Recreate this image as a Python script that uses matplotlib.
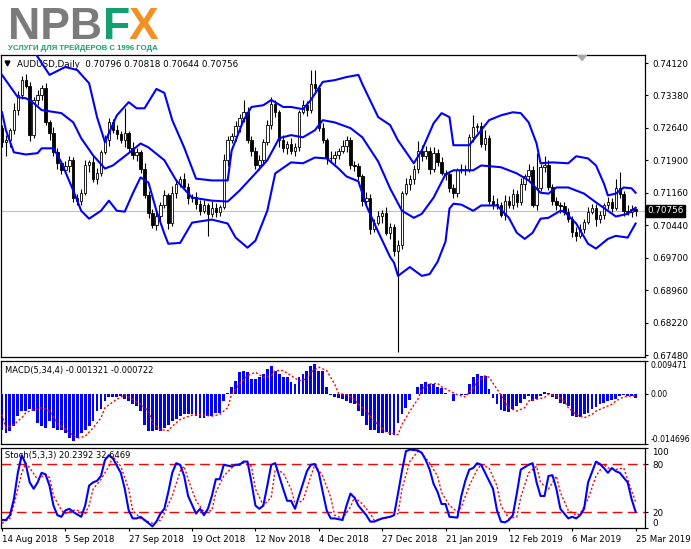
import numpy as np
import matplotlib.pyplot as plt
from matplotlib import font_manager
from matplotlib.patches import Polygon

# AUDUSD daily bars, 14 Aug 2018 (bar 0) .. 25 Mar 2019 (bar 160)
date_labels = ["14 Aug 2018", "5 Sep 2018", "27 Sep 2018", "19 Oct 2018",
               "12 Nov 2018", "4 Dec 2018", "27 Dec 2018", "21 Jan 2019",
               "12 Feb 2019", "6 Mar 2019", "25 Mar 2019"]
date_bars = [0, 16, 32, 48, 64, 80, 96, 112, 128, 144, 160]

opens = [
    0.7264, 0.7232, 0.7236, 0.7259, 0.7305, 0.7339, 0.7373, 0.7360, 0.7248, 0.7328,
    0.7339, 0.7355, 0.7277, 0.7252, 0.7209, 0.7184, 0.7168, 0.7177, 0.7191, 0.7104,
    0.7099, 0.7117, 0.7179, 0.7186, 0.7149, 0.7163, 0.7209, 0.7236, 0.7277, 0.7259,
    0.7250, 0.7236, 0.7252, 0.7218, 0.7202, 0.7209, 0.7172, 0.7111, 0.7072, 0.7044,
    0.7063, 0.7088, 0.7111, 0.7049, 0.7117, 0.7138, 0.7149, 0.7131, 0.7104, 0.7108,
    0.7092, 0.7076, 0.7088, 0.7069, 0.7083, 0.7074, 0.7085, 0.7191, 0.7236, 0.7245,
    0.7268, 0.7286, 0.7300, 0.7236, 0.7213, 0.7179, 0.7191, 0.7232, 0.7271, 0.7318,
    0.7300, 0.7236, 0.7218, 0.7227, 0.7213, 0.7220, 0.7300, 0.7316, 0.7305, 0.7364,
    0.7355, 0.7264, 0.7236, 0.7197, 0.7195, 0.7202, 0.7213, 0.7223, 0.7236, 0.7179,
    0.7177, 0.7154, 0.7099, 0.7104, 0.7035, 0.7049, 0.7063, 0.7072, 0.7026, 0.7040,
    0.6985, 0.6999, 0.7117, 0.7138, 0.7149, 0.7172, 0.7213, 0.7200, 0.7213, 0.7172,
    0.7207, 0.7186, 0.7163, 0.7159, 0.7127, 0.7117, 0.7168, 0.7170, 0.7172, 0.7243,
    0.7266, 0.7268, 0.7227, 0.7241, 0.7099, 0.7092, 0.7088, 0.7067, 0.7099, 0.7090,
    0.7115, 0.7095, 0.7138, 0.7154, 0.7168, 0.7090, 0.7127, 0.7175, 0.7179, 0.7131,
    0.7099, 0.7088, 0.7086, 0.7074, 0.7058, 0.7028, 0.7019, 0.7035, 0.7051, 0.7074,
    0.7083, 0.7058, 0.7067, 0.7088, 0.7097, 0.7083, 0.7127, 0.7115, 0.7076, 0.7074,
    0.70796]

highs = [
    0.7272, 0.7248, 0.7265, 0.7320, 0.7349, 0.7382, 0.7386, 0.7369, 0.7335, 0.7350,
    0.7363, 0.7367, 0.7283, 0.7267, 0.7219, 0.7189, 0.7190, 0.7200, 0.7198, 0.7115,
    0.7125, 0.7191, 0.7192, 0.7201, 0.7173, 0.7214, 0.7249, 0.7286, 0.7284, 0.7270,
    0.7258, 0.7309, 0.7258, 0.7233, 0.7219, 0.7214, 0.7185, 0.7120, 0.7079, 0.7074,
    0.7096, 0.7123, 0.7117, 0.7132, 0.7148, 0.7154, 0.7162, 0.7140, 0.7115, 0.7119,
    0.7100, 0.7100, 0.7094, 0.7098, 0.7093, 0.7090, 0.7204, 0.7245, 0.7252, 0.7279,
    0.7296, 0.7328, 0.7313, 0.7245, 0.7220, 0.7202, 0.7240, 0.7283, 0.7334, 0.7328,
    0.7305, 0.7249, 0.7234, 0.7242, 0.7230, 0.7305, 0.7329, 0.7325, 0.7396, 0.7396,
    0.7363, 0.7276, 0.7242, 0.7212, 0.7212, 0.7218, 0.7236, 0.7245, 0.7243, 0.7190,
    0.7185, 0.7159, 0.7119, 0.7114, 0.7057, 0.7075, 0.7078, 0.7085, 0.7049, 0.7047,
    0.7010, 0.7122, 0.7151, 0.7158, 0.7179, 0.7234, 0.7226, 0.7224, 0.7220, 0.7222,
    0.7217, 0.7198, 0.7169, 0.7165, 0.7138, 0.7173, 0.7183, 0.7181, 0.7250, 0.7293,
    0.7276, 0.7278, 0.7259, 0.7249, 0.7111, 0.7105, 0.7095, 0.7112, 0.7109, 0.7126,
    0.7123, 0.7150, 0.7160, 0.7183, 0.7178, 0.7207, 0.7182, 0.7200, 0.7191, 0.7138,
    0.7107, 0.7097, 0.7095, 0.7083, 0.7065, 0.7038, 0.7047, 0.7058, 0.7085, 0.7091,
    0.7092, 0.7076, 0.7094, 0.7108, 0.7105, 0.7149, 0.7165, 0.7121, 0.7088, 0.7090,
    0.70818]

lows = [
    0.7222, 0.7200, 0.7222, 0.7251, 0.7293, 0.7330, 0.7355, 0.7235, 0.7241, 0.7317,
    0.7329, 0.7271, 0.7238, 0.7201, 0.7172, 0.7159, 0.7163, 0.7164, 0.7097, 0.7088,
    0.7089, 0.7111, 0.7165, 0.7141, 0.7137, 0.7154, 0.7204, 0.7223, 0.7252, 0.7239,
    0.7230, 0.7222, 0.7210, 0.7194, 0.7190, 0.7163, 0.7106, 0.7059, 0.7037, 0.7033,
    0.7053, 0.7082, 0.7035, 0.7041, 0.7105, 0.7129, 0.7126, 0.7091, 0.7097, 0.7081,
    0.7066, 0.7070, 0.7019, 0.7061, 0.7062, 0.7065, 0.7080, 0.7178, 0.7229, 0.7234,
    0.7256, 0.7277, 0.7231, 0.7200, 0.7172, 0.7168, 0.7181, 0.7226, 0.7263, 0.7290,
    0.7222, 0.7210, 0.7204, 0.7205, 0.7201, 0.7211, 0.7295, 0.7292, 0.7298, 0.7344,
    0.7258, 0.7230, 0.7183, 0.7187, 0.7183, 0.7193, 0.7208, 0.7210, 0.7172, 0.7166,
    0.7146, 0.7086, 0.7092, 0.7024, 0.7027, 0.7043, 0.7049, 0.7020, 0.7012, 0.6974,
    0.6754, 0.6990, 0.7111, 0.7124, 0.7137, 0.7163, 0.7189, 0.7194, 0.7159, 0.7165,
    0.7177, 0.7157, 0.7145, 0.7119, 0.7105, 0.7108, 0.7163, 0.7157, 0.7165, 0.7232,
    0.7255, 0.7221, 0.7214, 0.7091, 0.7080, 0.7079, 0.7062, 0.7054, 0.7083, 0.7079,
    0.7085, 0.7090, 0.7124, 0.7146, 0.7085, 0.7077, 0.7120, 0.7164, 0.7124, 0.7088,
    0.7078, 0.7072, 0.7067, 0.7051, 0.7017, 0.7008, 0.7013, 0.7026, 0.7046, 0.7068,
    0.7042, 0.7049, 0.7058, 0.7081, 0.7074, 0.7078, 0.7105, 0.7065, 0.7066, 0.7061,
    0.70644]

closes = [
    0.7232, 0.7236, 0.7259, 0.7305, 0.7339, 0.7373, 0.7360, 0.7248, 0.7328, 0.7339,
    0.7355, 0.7277, 0.7252, 0.7209, 0.7184, 0.7168, 0.7177, 0.7191, 0.7104, 0.7099,
    0.7117, 0.7179, 0.7186, 0.7149, 0.7163, 0.7209, 0.7236, 0.7277, 0.7259, 0.7250,
    0.7236, 0.7252, 0.7218, 0.7202, 0.7209, 0.7172, 0.7111, 0.7072, 0.7044, 0.7063,
    0.7088, 0.7111, 0.7049, 0.7117, 0.7138, 0.7149, 0.7131, 0.7104, 0.7108, 0.7092,
    0.7076, 0.7088, 0.7069, 0.7083, 0.7074, 0.7085, 0.7191, 0.7236, 0.7245, 0.7268,
    0.7286, 0.7300, 0.7236, 0.7213, 0.7179, 0.7191, 0.7232, 0.7271, 0.7318, 0.7300,
    0.7236, 0.7218, 0.7227, 0.7213, 0.7220, 0.7300, 0.7316, 0.7305, 0.7364, 0.7355,
    0.7264, 0.7236, 0.7197, 0.7195, 0.7202, 0.7213, 0.7223, 0.7236, 0.7179, 0.7177,
    0.7154, 0.7099, 0.7104, 0.7035, 0.7049, 0.7063, 0.7072, 0.7026, 0.7040, 0.6985,
    0.6999, 0.7117, 0.7138, 0.7149, 0.7172, 0.7213, 0.7200, 0.7213, 0.7172, 0.7207,
    0.7186, 0.7163, 0.7159, 0.7127, 0.7117, 0.7168, 0.7170, 0.7172, 0.7243, 0.7266,
    0.7268, 0.7227, 0.7241, 0.7099, 0.7092, 0.7088, 0.7067, 0.7099, 0.7090, 0.7115,
    0.7095, 0.7138, 0.7154, 0.7168, 0.7090, 0.7127, 0.7175, 0.7179, 0.7131, 0.7099,
    0.7088, 0.7086, 0.7074, 0.7058, 0.7028, 0.7019, 0.7035, 0.7051, 0.7074, 0.7083,
    0.7058, 0.7067, 0.7088, 0.7097, 0.7083, 0.7127, 0.7115, 0.7076, 0.7074, 0.7080,
    0.70756]

# Bollinger bands as (bar, level)
bb_up_bars = [0, 5, 9, 12, 16, 19, 22, 24, 26, 29, 32, 34, 36, 39, 41, 43, 46, 49, 53, 57,
              58, 61, 63, 66, 68, 71, 73, 76, 78, 81, 84, 87, 90, 91, 95, 98, 100, 104, 106, 109,
              111, 113, 114, 118, 121, 123, 126, 129, 131, 133, 135, 136, 139, 143, 145, 148, 150, 152, 153, 155,
              157, 159, 160]
bb_up = [0.7499, 0.7487, 0.7426, 0.7385, 0.7403, 0.7396, 0.7366, 0.7289, 0.7232, 0.7293,
         0.7323, 0.7309, 0.7309, 0.7353, 0.7344, 0.7282, 0.7220, 0.7149, 0.7145, 0.7145,
         0.7213, 0.7282, 0.7312, 0.7316, 0.7328, 0.7312, 0.7312, 0.7307, 0.7328, 0.7369,
         0.7373, 0.7380, 0.7385, 0.7364, 0.7289, 0.7271, 0.7236, 0.7184, 0.7213, 0.7275,
         0.7298, 0.7289, 0.7225, 0.7225, 0.7259, 0.7282, 0.7293, 0.7300, 0.7298, 0.7277,
         0.7229, 0.7184, 0.7186, 0.7184, 0.7200, 0.7195, 0.7179, 0.7138, 0.7111, 0.7115,
         0.7129, 0.7127, 0.7117]

bb_mid_bars = [0, 4, 6, 8, 10, 15, 18, 20, 23, 26, 28, 32, 35, 37, 41, 44, 48, 53, 57, 60,
               64, 67, 70, 73, 76, 79, 81, 84, 88, 91, 95, 98, 101, 104, 106, 109, 112, 114, 119, 121,
               126, 130, 133, 136, 138, 140, 143, 147, 150, 153, 155, 158, 160]
bb_mid = [0.7385, 0.7334, 0.7332, 0.7321, 0.7305, 0.7298, 0.7277, 0.7241, 0.7202, 0.7172,
          0.7179, 0.7207, 0.7229, 0.7220, 0.7191, 0.7145, 0.7106, 0.7099, 0.7097, 0.7122,
          0.7161, 0.7191, 0.7241, 0.7248, 0.7243, 0.7259, 0.7282, 0.7277, 0.7264, 0.7243,
          0.7188, 0.7127, 0.7076, 0.7060, 0.7069, 0.7106, 0.7159, 0.7168, 0.7168, 0.7179,
          0.7175, 0.7161, 0.7145, 0.7117, 0.7115, 0.7129, 0.7129, 0.7115, 0.7095, 0.7076,
          0.7063, 0.7069, 0.7083]

bb_low_bars = [0, 1, 3, 6, 9, 10, 13, 15, 18, 20, 22, 25, 27, 29, 31, 33, 35, 37, 39, 41,
               42, 45, 48, 53, 57, 59, 62, 64, 67, 69, 73, 76, 79, 82, 85, 87, 90, 92, 95, 98,
               99, 100, 103, 106, 108, 110, 112, 113, 114, 116, 119, 121, 125, 128, 130, 132, 134, 136, 138, 141,
               142, 145, 148, 150, 153, 155, 158, 160]
bb_low = [0.7300, 0.7259, 0.7209, 0.7204, 0.7207, 0.7218, 0.7218, 0.7186, 0.7122, 0.7076,
          0.7058, 0.7076, 0.7099, 0.7076, 0.7074, 0.7115, 0.7152, 0.7140, 0.7076, 0.7024,
          0.7001, 0.7003, 0.7049, 0.7056, 0.7047, 0.7015, 0.6992, 0.7008, 0.7076, 0.7161,
          0.7186, 0.7184, 0.7197, 0.7195, 0.7172, 0.7154, 0.7143, 0.7088, 0.7028, 0.6971,
          0.6958, 0.6928, 0.6948, 0.6928, 0.6932, 0.6960, 0.7006, 0.7081, 0.7092, 0.7090,
          0.7076, 0.7088, 0.7088, 0.7060, 0.7026, 0.7012, 0.7026, 0.7058, 0.7060, 0.7076,
          0.7074, 0.7047, 0.7001, 0.6990, 0.7012, 0.7019, 0.7015, 0.7047]

price_tick_labels = ["0.74120", "0.73380", "0.72640", "0.71900", "0.71160",
                     "0.70440", "0.69700", "0.68960", "0.68220", "0.67480"]

# MACD(5,34,4) histogram, one value per bar
macd_hist = [
    -0.01051, -0.01149, -0.01100, -0.00953, -0.00658, -0.00511, -0.00511, -0.00462, -0.00511, -0.00855,
    -0.00953, -0.01002, -0.00806, -0.01002, -0.01051, -0.01051, -0.01149, -0.01297, -0.01375, -0.01297,
    -0.01149, -0.01051, -0.00953, -0.00806, -0.00511, -0.00462, -0.00216, -0.00098, -0.00098, -0.00098,
    -0.00069, -0.00167, -0.00216, -0.00314, -0.00363, -0.00511, -0.00904, -0.01100, -0.01100, -0.01051,
    -0.01100, -0.01002, -0.00904, -0.00806, -0.00756, -0.00658, -0.00609, -0.00609, -0.00609, -0.00658,
    -0.00707, -0.00707, -0.00658, -0.00658, -0.00560, -0.00560, -0.00216, 0.00029, 0.00177, 0.00373,
    0.00619, 0.00668, 0.00619, 0.00422, 0.00422, 0.00472, 0.00570, 0.00717, 0.00815, 0.00668,
    0.00570, 0.00472, 0.00472, 0.00324, 0.00275, 0.00472, 0.00570, 0.00668, 0.00815, 0.00864,
    0.00668, 0.00668, 0.00177, -0.00039, -0.00098, -0.00118, -0.00167, -0.00216, -0.00265, -0.00314,
    -0.00511, -0.00658, -0.00904, -0.01051, -0.01051, -0.01149, -0.01149, -0.01120, -0.01218, -0.01218,
    -0.00855, -0.00609, -0.00413, -0.00196, -0.00020, 0.00196, 0.00275, 0.00324, 0.00275, 0.00275,
    0.00196, 0.00157, 0.00029, -0.00020, -0.00216, -0.00020, -0.00039, -0.00039, 0.00275, 0.00491,
    0.00570, 0.00521, 0.00521, 0.00128, -0.00138, -0.00314, -0.00491, -0.00511, -0.00530, -0.00462,
    -0.00363, -0.00265, -0.00167, -0.00069, -0.00216, -0.00167, -0.00069, 0.00049, 0.00029, -0.00098,
    -0.00167, -0.00265, -0.00314, -0.00363, -0.00658, -0.00688, -0.00688, -0.00609, -0.00560, -0.00462,
    -0.00393, -0.00314, -0.00265, -0.00216, -0.00187, -0.00167, -0.00069, -0.00039, -0.00069, -0.00069,
    -0.001321]

macd_sig_bars = [0, 1, 3, 5, 6, 8, 10, 12, 14, 16, 19, 21, 23, 25, 26, 29, 31, 33, 35, 37,
                 38, 40, 42, 43, 45, 48, 50, 53, 55, 57, 58, 60, 62, 64, 66, 68, 69, 71, 73, 75,
                 77, 78, 80, 82, 84, 85, 87, 89, 90, 92, 94, 96, 97, 100, 101, 103, 105, 106, 108, 110,
                 111, 113, 115, 117, 118, 120, 122, 123, 125, 127, 128, 130, 132, 133, 135, 137, 138, 140, 142, 143,
                 145, 147, 149, 150, 152, 154, 155, 157, 159, 160]
macd_sig = [-0.00609, -0.01002, -0.00904, -0.00707, -0.00560, -0.00462, -0.00413, -0.00511, -0.00855, -0.01051,
            -0.01297, -0.01248, -0.01002, -0.00707, -0.00413, -0.00167, -0.00039, -0.00167, -0.00314, -0.00511,
            -0.00855, -0.01051, -0.01080, -0.00953, -0.00756, -0.00629, -0.00609, -0.00658, -0.00609, -0.00413,
            -0.00020, 0.00275, 0.00521, 0.00619, 0.00472, 0.00521, 0.00668, 0.00668, 0.00521, 0.00373,
            0.00422, 0.00619, 0.00766, 0.00668, 0.00275, 0.0, -0.00039, -0.00167, -0.00314, -0.00511,
            -0.00806, -0.01002, -0.01120, -0.01198, -0.00904, -0.00511, -0.00167, 0.00128, 0.00275, 0.00295,
            0.00196, 0.00079, -0.00039, -0.00098, 0.00029, 0.00324, 0.00521, 0.00472, 0.00128, -0.00216,
            -0.00413, -0.00511, -0.00413, -0.00216, -0.00167, -0.00118, -0.00020, -0.00069, -0.00216, -0.00413,
            -0.00609, -0.00707, -0.00609, -0.00511, -0.00413, -0.00314, -0.00216, -0.00098, -0.00069, -0.000722]

# Stochastic(5,3,3) main and signal, (bar, value)
stoch_bars = [0, 1, 2, 3, 4, 5, 6, 7, 8, 9, 10, 11, 12, 13, 14, 15, 16, 17, 18, 20,
              21, 22, 23, 24, 25, 26, 27, 28, 30, 31, 32, 33, 34, 35, 36, 37, 38, 39, 40, 41,
              42, 43, 44, 45, 46, 47, 49, 50, 51, 52, 53, 54, 55, 56, 58, 59, 60, 61, 62, 63,
              64, 65, 66, 67, 68, 69, 70, 71, 72, 73, 74, 75, 77, 78, 79, 80, 81, 82, 83, 84,
              86, 87, 88, 89, 90, 91, 92, 93, 94, 96, 97, 98, 99, 100, 101, 102, 103, 105, 106, 107,
              108, 109, 110, 111, 112, 113, 115, 116, 117, 118, 119, 120, 121, 122, 124, 125, 126, 127, 128, 129,
              130, 131, 133, 134, 135, 136, 137, 138, 139, 140, 141, 143, 144, 145, 146, 147, 148, 150, 151, 152,
              153, 154, 155, 156, 158, 159, 160]
stoch_main = [10, 10, 16, 36, 69, 91, 80, 57, 49, 57, 69, 67, 53, 28, 16, 14, 22, 24, 20, 14,
              28, 53, 57, 59, 65, 85, 91, 87, 69, 49, 22, 12, 12, 14, 10, 6, 2, 8, 18, 24,
              45, 69, 81, 79, 65, 40, 18, 24, 16, 24, 40, 61, 61, 79, 77, 79, 79, 83, 83, 57,
              28, 24, 28, 53, 79, 81, 65, 49, 34, 34, 24, 40, 71, 79, 80, 69, 45, 22, 12, 12,
              10, 28, 43, 38, 28, 22, 16, 8, 8, 12, 13, 14, 16, 43, 71, 96, 98, 97, 94, 85,
              73, 55, 45, 30, 30, 14, 13, 40, 59, 73, 75, 81, 79, 69, 49, 22, 8, 7, 10, 16,
              43, 73, 79, 81, 57, 40, 40, 65, 66, 49, 24, 12, 14, 12, 16, 24, 57, 83, 80, 75,
              69, 75, 71, 69, 57, 36, 20.2392]

stoch_sig_bars = [0, 2, 3, 5, 6, 7, 9, 11, 12, 13, 15, 16, 18, 19, 21, 22, 23, 25, 27, 28,
                  30, 32, 33, 35, 36, 38, 40, 41, 43, 45, 46, 47, 49, 51, 53, 54, 56, 58, 59, 61,
                  63, 64, 66, 68, 69, 71, 73, 74, 76, 78, 79, 81, 83, 84, 86, 88, 89, 91, 93, 94,
                  96, 98, 100, 101, 103, 105, 106, 108, 110, 111, 113, 115, 116, 118, 120, 121, 123, 125, 126, 128,
                  130, 131, 133, 135, 136, 138, 140, 141, 143, 145, 146, 148, 150, 152, 153, 155, 157, 158, 160]
stoch_sig = [5.8, 11.9, 28.2, 69, 81.2, 75.1, 60.8, 67, 62.9, 40.4,
             22.1, 18, 22.1, 22.1, 18, 28.2, 48.6, 60.8, 77.2, 89.4,
             77.2, 48.6, 22.1, 11.9, 9.8, 5.8, 9.8, 18, 40.4, 71,
             77.2, 60.8, 34.3, 20, 22.1, 44.5, 64.9, 75.1, 79.2, 81.2,
             77.2, 48.6, 28.2, 38.4, 73.1, 69, 48.6, 30.2, 34.3, 64.9,
             79.2, 64.9, 38.4, 16, 11.9, 26.2, 38.4, 30.2, 18, 9.8,
             11.9, 13.9, 18, 48.6, 83.3, 95.5, 93.5, 81.2, 64.9, 44.5,
             28.2, 20, 26.2, 52.7, 73.1, 79.2, 75.1, 52.7, 28.2, 11.9,
             13.9, 38.4, 69, 77.2, 56.8, 48.6, 64.9, 44.5, 22.1, 16,
             18, 36.3, 64.9, 79.2, 75.1, 73.1, 75.1, 60.8, 32.6469]

W, H = 691, 549
BLUE = "#0000ff"

fig = plt.figure(figsize=(W / 100, H / 100), dpi=100)
fig.patch.set_facecolor("white")


# pixel box (origin top-left) -> figure fraction
def box(x0, y0, x1, y1):
    return [x0 / W, 1 - y1 / H, (x1 - x0) / W, (y1 - y0) / H]


ax = fig.add_axes(box(1, 55, 645, 357))
axm = fig.add_axes(box(1, 361, 645, 444), sharex=ax)
axs = fig.add_axes(box(1, 448, 645, 528), sharex=ax)

n = len(closes)
bars = np.arange(n)
o = np.array(opens)
c = np.array(closes)
hi = np.array(highs)
lo = np.array(lows)

# candles
up = c >= o
ax.axhline(closes[-1], color="#c0c0c0", lw=0.8, zorder=1)
ax.vlines(bars, lo, hi, color="black", lw=0.8, zorder=2)
body_lo = np.minimum(o, c)
body_h = np.maximum(np.abs(c - o), 0.00005)
ax.bar(bars[up], body_h[up], bottom=body_lo[up], width=0.62, color="white",
       edgecolor="black", linewidth=0.6, zorder=3)
ax.bar(bars[~up], body_h[~up], bottom=body_lo[~up], width=0.62, color="black",
       edgecolor="black", linewidth=0.6, zorder=3)

# bollinger bands
ax.plot(bb_up_bars, bb_up, color=BLUE, lw=1.5, zorder=4)
ax.plot(bb_mid_bars, bb_mid, color=BLUE, lw=1.5, zorder=4)
ax.plot(bb_low_bars, bb_low, color=BLUE, lw=1.5, zorder=4)

xmin = -0.25
ax.set_xlim(xmin, xmin + 644 / 3.96)
ax.set_ylim(0.67435, 0.74302)
ax.yaxis.tick_right()
ax.set_yticks(np.linspace(0.74120, 0.67480, len(price_tick_labels)))
ax.set_yticklabels(price_tick_labels)

ax.text(0.0248, 0.970, "AUDUSD,Daily  0.70796 0.70818 0.70644 0.70756",
        transform=ax.transAxes, fontsize=6.3, va="center", ha="left")
ax.plot([0.0095], [0.972], marker="v", color="black", markersize=3.5,
        transform=ax.transAxes, clip_on=False)
ax.add_patch(Polygon([[0.8953, 1.0], [0.9093, 1.0], [0.9023, 0.982]], closed=True,
                     transform=ax.transAxes, color="#a8a8a8", zorder=5))

# bid price tag
ax.text(1.004, closes[-1], "0.70756", transform=ax.get_yaxis_transform(),
        fontsize=6.3, color="white", va="center", ha="left",
        bbox=dict(boxstyle="square,pad=0.18", facecolor="black", edgecolor="black"))

# MACD
axm.bar(bars, macd_hist, width=0.72, color=BLUE, linewidth=0, zorder=2)
axm.plot(macd_sig_bars, macd_sig, color="red", lw=1.0, ls=(0, (1.5, 1.5)), zorder=3)
axm.set_ylim(-0.014696, 0.009471)
axm.yaxis.tick_right()
axm.set_yticks([0.009471, 0.0, -0.014696])
lbl = axm.set_yticklabels(["0.009471", "0.00", "-0.014696"])
lbl[0].set_va("top")
lbl[2].set_va("bottom")
axm.text(0.006, 0.89, "MACD(5,34,4) -0.001321 -0.000722", transform=axm.transAxes,
         fontsize=6, va="center", ha="left")

# Stochastic
axs.axhline(80, color="red", lw=1.0, ls=(0, (7, 4)), zorder=1)
axs.axhline(20, color="red", lw=1.0, ls=(0, (7, 4)), zorder=1)
axs.plot(stoch_sig_bars, stoch_sig, color="red", lw=1.0, ls=(0, (1.5, 1.5)), zorder=2)
axs.plot(stoch_bars, stoch_main, color=BLUE, lw=1.5, zorder=3)
axs.set_ylim(0, 100)
axs.yaxis.tick_right()
axs.set_yticks([100, 80, 20, 0])
lbl = axs.set_yticklabels(["100", "80", "20", "0"])
lbl[0].set_va("top")
lbl[3].set_va("bottom")
axs.text(0.006, 0.91, "Stoch(5,3,3) 20.2392 32.6469", transform=axs.transAxes,
         fontsize=6, va="center", ha="left")

axs.set_xticks(date_bars)
axs.set_xticklabels(date_labels)
for t in axs.get_xticklabels():
    t.set_ha("left")

for a in (ax, axm, axs):
    a.set_facecolor("white")
    for s in a.spines.values():
        s.set_color("black")
        s.set_linewidth(0.9)
    a.tick_params(axis="y", which="both", left=False, right=True, direction="out",
                  length=2.5, width=0.8, pad=2.5, labelsize=6.3)
for a in (ax, axm):
    a.tick_params(axis="x", bottom=False, labelbottom=False)
axm.tick_params(axis="y", labelsize=5.6, pad=1.5)
axs.tick_params(axis="x", bottom=True, direction="out", length=2.5, width=0.8,
                pad=2.5, labelsize=6.2)

# NPBFX logo
names = {f.name for f in font_manager.fontManager.ttflist}
logo_font = "Liberation Sans" if "Liberation Sans" in names else "DejaVu Sans"
fig.text(8 / W, 1 - 39 / H, "NPB", fontsize=32, fontweight="bold", family=logo_font,
         color="#7b7b7b", va="baseline", ha="left")
fig.text(103 / W, 1 - 39 / H, "F", fontsize=32, fontweight="bold", family=logo_font,
         color="#12a070", va="baseline", ha="left")
fig.text(129 / W, 1 - 39 / H, "X", fontsize=32, fontweight="bold", family=logo_font,
         color="#f39020", va="baseline", ha="left")
fig.text(8 / W, 1 - 50.5 / H, "УСЛУГИ ДЛЯ ТРЕЙДЕРОВ С 1996 ГОДА", fontsize=5.6,
         fontweight="bold", family=logo_font, color="#12a070", va="baseline", ha="left")

fig.savefig("out.png", dpi=100, facecolor="white")
